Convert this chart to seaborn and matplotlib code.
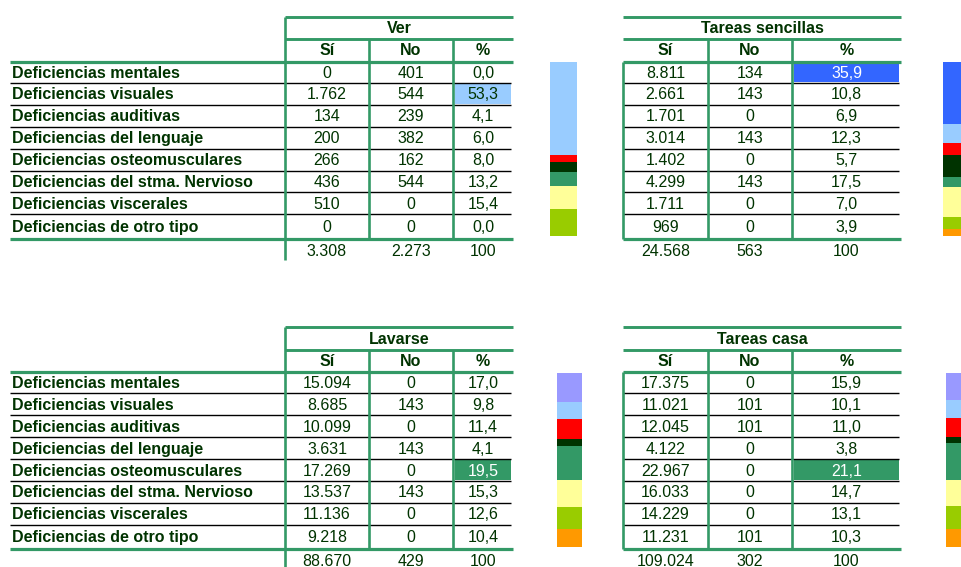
import numpy as np
import pandas as pd
import matplotlib
matplotlib.use("Agg")
import matplotlib.pyplot as plt
from matplotlib.patches import Rectangle
import seaborn as sns

categorias = ["Deficiencias mentales", "Deficiencias visuales", "Deficiencias auditivas",
              "Deficiencias del lenguaje", "Deficiencias osteomusculares",
              "Deficiencias del stma. Nervioso", "Deficiencias viscerales",
              "Deficiencias de otro tipo"]
columnas = ["Sí", "No", "%"]

ver_si = [0, 1762, 134, 200, 266, 436, 510, 0]
ver_no = [401, 544, 239, 382, 162, 544, 0, 0]
ver_pct = [0.0, 53.3, 4.1, 6.0, 8.0, 13.2, 15.4, 0.0]
ver_tot = [3308, 2273, 100]

sencillas_si = [8811, 2661, 1701, 3014, 1402, 4299, 1711, 969]
sencillas_no = [134, 143, 0, 143, 0, 143, 0, 0]
sencillas_pct = [35.9, 10.8, 6.9, 12.3, 5.7, 17.5, 7.0, 3.9]
sencillas_tot = [24568, 563, 100]

lavarse_si = [15094, 8685, 10099, 3631, 17269, 13537, 11136, 9218]
lavarse_no = [0, 143, 0, 143, 0, 143, 0, 0]
lavarse_pct = [17.0, 9.8, 11.4, 4.1, 19.5, 15.3, 12.6, 10.4]
lavarse_tot = [88670, 429, 100]

casa_si = [17375, 11021, 12045, 4122, 22967, 16033, 14229, 11231]
casa_no = [0, 101, 101, 0, 0, 0, 0, 101]
casa_pct = [15.9, 10.1, 11.0, 3.8, 21.1, 14.7, 13.1, 10.3]
casa_tot = [109024, 302, 100]

colores = ["#9999FF", "#99CCFF", "#FF0000", "#003300", "#339966", "#FFFF99", "#99CC00", "#FF9900"]
colores_sencillas = ["#3366FF"] + colores[1:]

VERDE = "#339966"
TEXTO = "#003300"

sns.set_style("white")
plt.rcParams["font.family"] = ["Liberation Sans", "DejaVu Sans"]
FS = 11.5
DT = 1.0  # ajuste vertical del texto


def miles(v):
    return f"{v:,}".replace(",", ".")


def coma(p):
    return f"{p:.1f}".replace(".", ",")


W, H = 961, 567
fig = plt.figure(figsize=(W / 100, H / 100), dpi=100)
ax = fig.add_axes([0, 0, 1, 1])
ax.set_xlim(0, W)
ax.set_ylim(H, 0)
ax.axis("off")

# (titulo, si, no, pct, totales, colores, x izq, sep1, sep2, x der, desplaz. y, etiquetas, barra x, barra ancho)
paneles = [
    ("Ver", ver_si, ver_no, ver_pct, ver_tot, colores, 285, 369, 453, 513, 0, True, 550, 27),
    ("Tareas sencillas", sencillas_si, sencillas_no, sencillas_pct, sencillas_tot,
     colores_sencillas, 623, 708, 792, 901, 0, False, 943, 28),
    ("Lavarse", lavarse_si, lavarse_no, lavarse_pct, lavarse_tot, colores, 285, 369, 453, 513, 310.5, True, 557, 25),
    ("Tareas casa", casa_si, casa_no, casa_pct, casa_tot, colores, 623, 708, 792, 901, 310.5, False, 946, 28),
]

claros = {"#99CCFF", "#FFFF99", "#9999FF"}

for (titulo, si, no, pct, tot, cols, x0, s1, s2, x1, dy, etiq, bx, bw) in paneles:
    y_top, y_tit, y_sub, y_bot, y_tot = 16.7 + dy, 39 + dy, 61.7 + dy, 238.5 + dy, 250 + dy
    bordes = [y_sub] + [82.7 + dy + 21.95 * k for k in range(7)] + [y_bot]
    centros = [(bordes[i] + bordes[i + 1]) / 2 + DT for i in range(8)]
    xl = 10 if etiq else x0

    # resaltado del maximo
    imax = int(np.argmax(pct))
    ax.add_patch(Rectangle((s2 + 1.5, bordes[imax] + 1), x1 - s2 - 3.5, bordes[imax + 1] - bordes[imax] - 2,
                           facecolor=cols[imax], edgecolor="none", zorder=1))

    # lineas
    ax.hlines([y_top, y_tit], x0, x1, color=VERDE, lw=2.1, capstyle="butt", zorder=3)
    ax.hlines([y_sub, y_bot], xl, x1, color=VERDE, lw=2.3, capstyle="butt", zorder=3)
    ax.hlines(bordes[1:-1], xl, x1 - 2, color="black", lw=1.0, zorder=2)
    if etiq:
        ax.vlines(x0, y_top, 260 + dy, color=VERDE, lw=1.9, zorder=3)
    else:
        ax.vlines(x0, y_sub, y_bot, color=VERDE, lw=1.9, zorder=3)
    ax.vlines([s1, s2], y_tit, y_bot, color=VERDE, lw=1.9, zorder=3)

    # textos
    cx = [(x0 + s1) / 2, (s1 + s2) / 2, (s2 + x1) / 2]
    ax.text((x0 + x1) / 2, (y_top + y_tit) / 2 + DT, titulo, ha="center", va="center",
            fontsize=FS, fontweight="bold", color=TEXTO)
    for c, nombre in zip(cx, columnas):
        ax.text(c, (y_tit + y_sub) / 2 + DT * 0.5, nombre, ha="center", va="center",
                fontsize=FS, fontweight="bold", color=TEXTO)
    for i in range(8):
        if etiq:
            ax.text(12, centros[i], categorias[i], ha="left", va="center",
                    fontsize=FS, fontweight="bold", color=TEXTO)
        ax.text(cx[0], centros[i], miles(si[i]), ha="center", va="center", fontsize=FS, color=TEXTO)
        ax.text(cx[1], centros[i], miles(no[i]), ha="center", va="center", fontsize=FS, color=TEXTO)
        tc = "white" if (i == imax and cols[i] not in claros) else TEXTO
        ax.text(cx[2], centros[i], coma(pct[i]), ha="center", va="center", fontsize=FS, color=tc, zorder=4)
    ax.text(cx[0], y_tot + DT, miles(tot[0]), ha="center", va="center", fontsize=FS, color=TEXTO)
    ax.text(cx[1], y_tot + DT, miles(tot[1]), ha="center", va="center", fontsize=FS, color=TEXTO)
    ax.text(cx[2], y_tot + DT, str(tot[2]), ha="center", va="center", fontsize=FS, color=TEXTO)

    # barra apilada al 100 %
    b_top, b_bot = 62 + dy, 236 + dy
    bax = fig.add_axes([bx / W, (H - b_bot) / H, bw / W, (b_bot - b_top) / H])
    df = pd.DataFrame({"cat": categorias, "pct": pct, "col": cols})
    df["acum"] = df["pct"].cumsum()
    for i in range(len(df) - 1, -1, -1):
        if df["pct"][i] <= 0:
            continue
        sns.barplot(x=[0], y=[df["acum"][i]], color=df["col"][i], saturation=1, width=1,
                    linewidth=0, errorbar=None, ax=bax)
    bax.set_xlim(-0.5, 0.5)
    bax.set_ylim(100, 0)
    bax.axis("off")

fig.savefig("out.png", dpi=100)
